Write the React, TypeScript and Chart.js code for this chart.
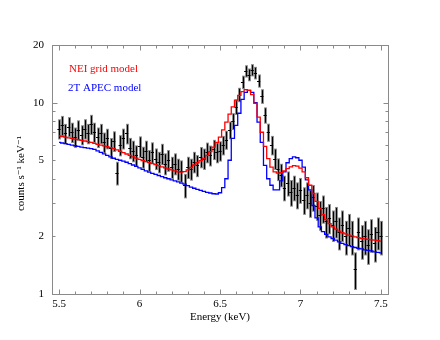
import React, { useEffect, useRef } from 'react';
import { Chart, registerables } from 'chart.js';

Chart.register(...registerables);

// ---------- data ----------
const energy = [
  5.50, 5.52, 5.54, 5.56, 5.58, 5.60, 5.62, 5.64, 5.66, 5.68,
  5.70, 5.72, 5.74, 5.76, 5.78, 5.80, 5.82, 5.84, 5.86, 5.88,
  5.90, 5.92, 5.94, 5.96, 5.98, 6.00, 6.02, 6.04, 6.06, 6.08,
  6.10, 6.12, 6.14, 6.16, 6.18, 6.20, 6.22, 6.24, 6.26, 6.28,
  6.30, 6.32, 6.34, 6.36, 6.38, 6.40, 6.42, 6.44, 6.46, 6.48,
  6.50, 6.52, 6.54, 6.56, 6.58, 6.60, 6.62, 6.64, 6.66, 6.68,
  6.70, 6.72, 6.74, 6.76, 6.78, 6.80, 6.82, 6.84, 6.86, 6.88,
  6.90, 6.92, 6.94, 6.96, 6.98, 7.00, 7.02, 7.04, 7.06, 7.08,
  7.10, 7.12, 7.14, 7.16, 7.18, 7.20, 7.22, 7.24, 7.26, 7.28,
  7.30, 7.32, 7.34, 7.36, 7.38, 7.40, 7.42, 7.44, 7.46, 7.48,
  7.50,
];

const observed = [
  7.3, 7.6, 6.9, 7.5, 7.0, 6.6, 7.2, 6.8, 7.3, 6.9,
  7.7, 7.0, 6.6, 6.9, 6.2, 6.5, 5.8, 6.3, 4.3, 6.0,
  6.5, 6.9, 5.8, 5.6, 5.3, 5.9, 5.2, 5.6, 5.0, 5.5,
  5.1, 4.9, 5.4, 4.8, 5.0, 4.6, 4.8, 4.5, 4.4, 3.7,
  4.6, 4.5, 4.9, 4.7, 5.2, 5.1, 5.5, 5.3, 5.7, 5.5,
  5.6, 6.0, 6.4, 7.2, 8.0, 9.5, 11.0, 12.8, 14.6, 14.0,
  14.8, 14.3, 13.0, 10.8, 8.6, 7.0, 6.0, 5.1, 4.5, 4.2,
  3.6, 3.8, 3.4, 3.6, 3.3, 3.5, 3.1, 3.3, 3.0, 3.2,
  2.9, 2.6, 2.8, 2.4, 2.5, 2.3, 2.4, 2.1, 2.3, 2.0,
  2.2, 2.0, 1.35, 2.1, 1.9, 2.0, 1.8, 2.05, 1.85, 2.1,
  2.0,
];

const observedErr = [
  0.88, 0.92, 0.84, 0.90, 0.85, 0.81, 0.88, 0.82, 0.89, 0.84,
  0.93, 0.85, 0.81, 0.84, 0.77, 0.80, 0.73, 0.78, 0.61, 0.76,
  0.81, 0.85, 0.74, 0.72, 0.68, 0.76, 0.68, 0.72, 0.65, 0.70,
  0.66, 0.63, 0.69, 0.63, 0.65, 0.61, 0.63, 0.59, 0.59, 0.54,
  0.61, 0.59, 0.63, 0.62, 0.66, 0.65, 0.68, 0.66, 0.69, 0.68,
  0.68, 0.70, 0.73, 0.77, 0.81, 0.88, 0.95, 1.03, 1.08, 1.07,
  1.09, 1.08, 1.03, 0.95, 0.84, 0.76, 0.70, 0.65, 0.61, 0.59,
  0.55, 0.57, 0.54, 0.55, 0.53, 0.54, 0.51, 0.53, 0.50, 0.51,
  0.49, 0.46, 0.47, 0.45, 0.45, 0.43, 0.45, 0.41, 0.43, 0.41,
  0.42, 0.41, 0.30, 0.41, 0.39, 0.41, 0.38, 0.41, 0.39, 0.41,
  0.41,
];

const neiModel = [
  6.70, 6.65, 6.60, 6.55, 6.50, 6.45, 6.40, 6.35, 6.30, 6.25,
  6.20, 6.12, 6.05, 6.00, 5.94, 5.88, 5.82, 5.75, 5.66, 5.57,
  5.48, 5.39, 5.30, 5.21, 5.13, 5.05, 4.98, 4.92, 4.86, 4.80,
  4.74, 4.68, 4.62, 4.56, 4.50, 4.45, 4.40, 4.35, 4.33, 4.36,
  4.45, 4.58, 4.72, 4.85, 4.98, 5.10, 5.30, 5.55, 5.85, 6.20,
  6.60, 7.20, 7.90, 8.70, 9.50, 10.3, 10.9, 11.4, 11.7, 11.6,
  11.0, 9.9, 8.4, 7.0, 5.9, 5.1, 4.6, 4.35, 4.28, 4.30,
  4.40, 4.52, 4.62, 4.68, 4.66, 4.55, 4.35, 4.05, 3.70, 3.35,
  3.05, 2.80, 2.60, 2.45, 2.33, 2.24, 2.18, 2.13, 2.09, 2.06,
  2.03, 2.01, 1.99, 1.97, 1.95, 1.94, 1.93, 1.92, 1.91, 1.90,
  1.89,
];

const apecModel = [
  6.20, 6.15, 6.10, 6.05, 6.00, 5.95, 5.90, 5.86, 5.82, 5.78,
  5.75, 5.70, 5.60, 5.50, 5.40, 5.30, 5.20, 5.12, 5.05, 5.00,
  4.95, 4.88, 4.80, 4.72, 4.64, 4.56, 4.48, 4.40, 4.33, 4.27,
  4.22, 4.16, 4.10, 4.05, 4.00, 3.95, 3.90, 3.85, 3.80, 3.75,
  3.68, 3.62, 3.57, 3.52, 3.48, 3.44, 3.40, 3.37, 3.34, 3.33,
  3.38, 3.60, 4.00, 5.00, 6.50, 7.60, 8.80, 10.4, 11.3, 11.6,
  11.3, 10.0, 7.9, 6.2, 4.7, 4.0, 3.7, 3.5, 3.5, 3.9,
  4.35, 4.85, 5.10, 5.20, 5.15, 5.00, 4.60, 3.95, 3.50, 2.90,
  2.50, 2.24, 2.12, 2.05, 1.99, 1.95, 1.91, 1.87, 1.84, 1.81,
  1.79, 1.77, 1.75, 1.73, 1.72, 1.70, 1.69, 1.68, 1.66, 1.65,
  1.64,
];

const binHalfWidth = 0.01;
const xTickValues = [5.5, 6, 6.5, 7, 7.5];
const yTickValues = [1, 2, 5, 10, 20];
const yMinorValues = [2, 3, 4, 5, 6, 7, 8, 9];
const yMajorValues = [1, 10];
const legendLabels = ['NEI grid model', '2T APEC model'];
const xTitle = 'Energy (keV)';
const yTitle = 'counts s\u207B\u00B9 keV\u207B\u00B9';

const FONT = "'Liberation Serif', 'DejaVu Serif', serif";
const RED = '#ff0000';
const BLUE = '#0000ff';
const FRAME = '#8a8a8a';

const errorBarPlugin = {
  id: 'errorBars',
  beforeDatasetsDraw(chart: any) {
    const { ctx, chartArea: a } = chart;
    const xs = chart.scales.x;
    const ys = chart.scales.y;
    ctx.save();
    ctx.beginPath();
    ctx.rect(a.left, a.top, a.right - a.left, a.bottom - a.top);
    ctx.clip();
    for (let i = 0; i < energy.length; i++) {
      const px = Math.round(xs.getPixelForValue(energy[i])) + 0.5;
      const py = ys.getPixelForValue(observed[i]);
      const yTop = ys.getPixelForValue(observed[i] + observedErr[i]);
      const yBot = ys.getPixelForValue(observed[i] - observedErr[i]);
      ctx.strokeStyle = 'rgba(50,50,50,0.6)';
      ctx.lineWidth = 2.8;
      ctx.beginPath();
      ctx.moveTo(px, yTop);
      ctx.lineTo(px, yBot);
      ctx.stroke();
      ctx.strokeStyle = '#000';
      ctx.lineWidth = 1;
      ctx.beginPath();
      ctx.moveTo(px, yTop + 1);
      ctx.lineTo(px, yBot - 1);
      ctx.stroke();
      const xl = xs.getPixelForValue(energy[i] - binHalfWidth);
      const xr = xs.getPixelForValue(energy[i] + binHalfWidth);
      ctx.beginPath();
      ctx.moveTo(xl, Math.round(py) + 0.5);
      ctx.lineTo(xr, Math.round(py) + 0.5);
      ctx.stroke();
    }
    ctx.restore();
  },
};

const framePlugin = {
  id: 'frameTicks',
  afterDraw(chart: any) {
    const { ctx, chartArea: a } = chart;
    const xs = chart.scales.x;
    const ys = chart.scales.y;
    ctx.save();
    ctx.strokeStyle = FRAME;
    ctx.lineWidth = 1;
    const L = Math.round(a.left) + 0.5;
    const R = Math.round(a.right) + 0.5;
    const T = Math.round(a.top) + 0.5;
    const B = Math.round(a.bottom) + 0.5;
    ctx.strokeRect(L, T, R - L, B - T);
    ctx.beginPath();
    for (let k = 55; k <= 75; k++) {
      const v = k / 10;
      const px = Math.round(xs.getPixelForValue(v)) + 0.5;
      const major = k % 5 === 0;
      const len = major ? 5 : 3;
      ctx.moveTo(px, B);
      ctx.lineTo(px, B - len);
      ctx.moveTo(px, T);
      ctx.lineTo(px, T + len);
    }
    const yTickSet = yMinorValues.map((v) => ({ v, len: 3 })).concat(yMajorValues.map((v) => ({ v, len: 5 })));
    for (const t of yTickSet) {
      const py = Math.round(ys.getPixelForValue(t.v)) + 0.5;
      ctx.moveTo(L, py);
      ctx.lineTo(L + t.len, py);
      ctx.moveTo(R, py);
      ctx.lineTo(R - t.len, py);
    }
    ctx.stroke();

    // y-axis title
    ctx.save();
    ctx.translate(21, (a.top + a.bottom) / 2 + 4);
    ctx.rotate(-Math.PI / 2);
    ctx.font = `11px ${FONT}`;
    ctx.fillStyle = '#000';
    ctx.textAlign = 'center';
    ctx.textBaseline = 'middle';
    ctx.fillText(yTitle, 0, 0);
    ctx.restore();

    // legend text
    ctx.font = `11px ${FONT}`;
    ctx.textBaseline = 'middle';
    ctx.textAlign = 'left';
    const colors = [chart.data.datasets[1].borderColor, chart.data.datasets[2].borderColor];
    const lx = a.left + 17;
    ctx.fillStyle = colors[0];
    ctx.fillText(legendLabels[0], lx, a.top + 24);
    ctx.fillStyle = colors[1];
    ctx.fillText(legendLabels[1], lx - 1, a.top + 43);
    ctx.restore();
  },
};

export default function App() {
  const ref = useRef<HTMLCanvasElement | null>(null);

  useEffect(() => {
    if (!ref.current) return;
    const chart = new Chart(ref.current, {
      type: 'line',
      data: {
        datasets: [
          {
            label: 'data',
            data: energy.map((e, i) => ({ x: e, y: observed[i] })),
            showLine: false,
            pointRadius: 0,
            borderColor: '#000',
          },
          {
            label: legendLabels[0],
            data: energy.map((e, i) => ({ x: e, y: neiModel[i] })),
            borderColor: RED,
            borderWidth: 1.3,
            pointRadius: 0,
            stepped: 'middle',
            fill: false,
          },
          {
            label: legendLabels[1],
            data: energy.map((e, i) => ({ x: e, y: apecModel[i] })),
            borderColor: BLUE,
            borderWidth: 1.3,
            pointRadius: 0,
            stepped: 'middle',
            fill: false,
          },
        ],
      },
      options: {
        animation: false,
        responsive: false,
        layout: { padding: { top: 45, right: 52, left: 0, bottom: 0 } },
        plugins: { legend: { display: false }, tooltip: { enabled: false } },
        scales: {
          x: {
            type: 'linear',
            min: 5.4565,
            max: 7.5435,
            grid: { display: false, drawTicks: false },
            border: { display: false },
            afterBuildTicks: (s: any) => {
              s.ticks = xTickValues.map((v) => ({ value: v }));
            },
            afterFit: (s: any) => {
              s.height = 46;
            },
            ticks: {
              color: '#000',
              padding: 4,
              maxRotation: 0,
              autoSkip: false,
              font: { family: FONT, size: 11 },
              callback: (v: any) => String(v),
            },
            title: {
              display: true,
              text: xTitle,
              color: '#000',
              font: { family: FONT, size: 11 },
              padding: { top: 0, bottom: 16 },
            },
          },
          y: {
            type: 'logarithmic',
            min: 1,
            max: 20,
            grid: { display: false, drawTicks: false },
            border: { display: false },
            afterBuildTicks: (s: any) => {
              s.ticks = yTickValues.map((v) => ({ value: v }));
            },
            afterFit: (s: any) => {
              s.width = 52;
            },
            ticks: {
              color: '#000',
              padding: 8,
              autoSkip: false,
              font: { family: FONT, size: 11 },
              callback: (v: any) => String(v),
            },
            title: { display: false },
          },
        },
      },
      plugins: [errorBarPlugin, framePlugin],
    } as any);
    return () => chart.destroy();
  }, []);

  return (
    <div style={{ position: 'fixed', left: 0, top: 0, width: 440, height: 340, background: '#fff' }}>
      <canvas ref={ref} width={440} height={340} style={{ display: 'block', width: 440, height: 340 }} />
    </div>
  );
}
